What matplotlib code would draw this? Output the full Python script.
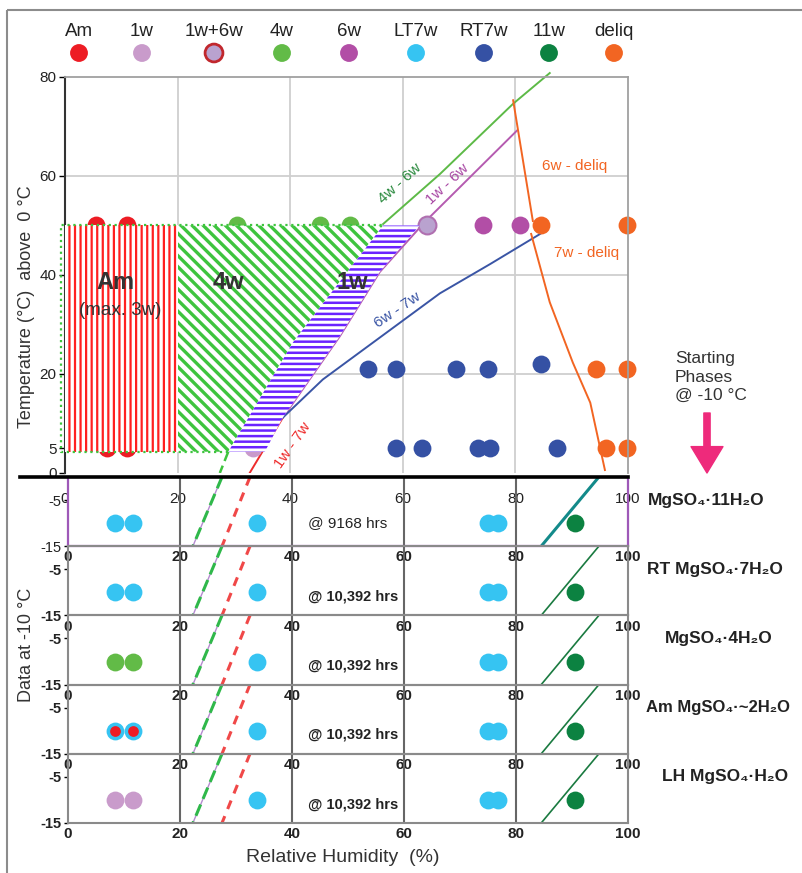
import numpy as np
import matplotlib
matplotlib.use('Agg')
import matplotlib.pyplot as plt
from matplotlib.patches import Rectangle, FancyArrowPatch

plt.rcParams['font.family'] = ['Liberation Sans', 'DejaVu Sans']
plt.rcParams['hatch.linewidth'] = 1.7

# legend phases
phases = ['Am', '1w', '1w+6w', '4w', '6w', 'LT7w', 'RT7w', '11w', 'deliq']
phase_colors = ['#ed1c24', '#c99bcb', '#b9a2cf', '#62bb47', '#b24ea6',
                '#36c4f2', '#3551a4', '#0c8241', '#f26522']

# observations above 0 C (RH %, T C)
am_rh, am_t = [5.5, 11.0, 7.5, 11.0], [50, 50, 5, 5]
w1_rh, w1_t = [33.4], [5]
w16_rh, w16_t = [64.3], [50]
w4_rh, w4_t = [30.5, 45.3, 50.6], [50, 50, 50]
w6_rh, w6_t = [74.2, 80.8], [50, 50]
rt7_rh = [53.8, 58.8, 69.4, 75.1, 84.5, 58.8, 63.4, 73.3, 75.4, 87.4]
rt7_t = [21, 21, 21, 21, 22, 5, 5, 5, 5, 5]
deliq_rh, deliq_t = [84.5, 99.8, 94.3, 99.8, 96.1, 99.8], [50, 50, 21, 21, 5, 5]

# phase boundaries
b46_rh, b46_t = [56.5, 66.6, 79.6, 86.1], [50.3, 60.4, 74.6, 80.8]
b17_rh, b17_t = [32.8, 38.7], [0, 11.2]
b16_rh, b16_t = [38.7, 48.8, 55.9, 63.9, 80.3], [11.2, 27.6, 40.6, 50.7, 69.2]
b67_rh, b67_t = [38.7, 45.8, 66.6, 75.5, 84.4], [11.2, 18.9, 36.3, 42.2, 48.3]
b6dq_rh, b6dq_t = [79.6, 83.1], [75.3, 50.9]
b7dq_rh, b7dq_t = [82.8, 86.1, 90.2, 93.3, 95.9], [48.3, 34.5, 22.3, 14.2, 0.6]
b14_rh, b14_t = [29.0, 27.5], [4.3, 0]

# hatched regions
am_reg_rh, am_reg_t = [0, 20, 20, 0], [4.3, 4.3, 50, 50]
w4_reg_rh, w4_reg_t = [0, 29.0, 40.5, 56.5, 0], [4.3, 4.3, 26.4, 50, 50]
w1_reg_rh = [29.0, 35.5, 38.7, 48.8, 55.9, 63.0, 56.5, 40.5]
w1_reg_t = [4.3, 4.3, 11.2, 27.6, 40.6, 50, 50, 26.4]

# data at -10 C
start_names = ['MgSO\u2084\u00b711H\u2082O', 'RT MgSO\u2084\u00b77H\u2082O', 'MgSO\u2084\u00b74H\u2082O',
               'Am MgSO\u2084\u00b7~2H\u2082O', 'LH MgSO\u2084\u00b7H\u2082O']
hours = ['@ 9168 hrs', '@ 10,392 hrs', '@ 10,392 hrs', '@ 10,392 hrs', '@ 10,392 hrs']
left_rh = [8.4, 11.6]
left_colors = ['#36c4f2', '#36c4f2', '#62bb47', '#36c4f2', '#c99bcb']
lt7_rh = [33.75, 75.0, 76.8]
w11_rh = [90.5]
cold_green_rh, cold_red_rh, cold_11_rh = [27.5, 22.3], [32.5, 27.5], [94.8, 84.5]
cold_t = [0, -15]
rh_ticks = [0, 20, 40, 60, 80, 100]

W, H = 802, 873
fig = plt.figure(figsize=(W / 100, H / 100), dpi=100)


def px_axes(l, t, r, b):
    return fig.add_axes([l / W, 1 - b / H, (r - l) / W, (b - t) / H])


def hatch_lw(polys, w):
    for p in polys:
        if hasattr(p, 'set_hatch_linewidth'):
            p.set_hatch_linewidth(w)


# ---- top panel
ax = px_axes(65, 77, 628, 473)
ax.set_xlim(0, 100)
ax.set_ylim(0, 80)
ax.set_xticks(rh_ticks)
ax.set_yticks([0, 5, 20, 40, 60, 80])
for s in ['top', 'right']:
    ax.spines[s].set_color('#a0a0a0')
    ax.spines[s].set_linewidth(1.3)
ax.spines['left'].set_color('#333333')
ax.spines['left'].set_linewidth(1.5)
ax.spines['bottom'].set_visible(False)
ax.tick_params(axis='x', length=0, pad=14, labelsize=11, labelcolor='#222')
ax.tick_params(axis='y', length=4, width=1, pad=2, labelsize=11, labelcolor='#222')
for v in [20, 40, 60, 80]:
    ax.axvline(v, color='#cfcfcf', lw=1.3, zorder=0.5)
for v in [20, 40, 60]:
    ax.axhline(v, color='#cfcfcf', lw=1.3, zorder=0.5)

g = ax.fill(w4_reg_rh, w4_reg_t, facecolor='white', edgecolor='#3ec43e', hatch='\\\\\\', lw=0, zorder=2.6)
hatch_lw(g, 2.4)
r = ax.fill(am_reg_rh, am_reg_t, facecolor='white', edgecolor='#ff2020', hatch='|||', lw=0, zorder=2.7)
hatch_lw(r, 1.6)
p = ax.fill(w1_reg_rh, w1_reg_t, facecolor='white', edgecolor='#6a22ff', hatch='---', lw=0, zorder=2.6)
hatch_lw(p, 1.8)
ax.plot([w4_reg_rh[1], -0.7, -0.7, w4_reg_rh[3]], [4.3, 4.3, 50, 50], ls=':', color='#3ec43e',
        lw=1.6, clip_on=False, zorder=2.8)

ax.plot(b46_rh, b46_t, color='#5dba47', lw=1.4, zorder=1.5, clip_on=False)
ax.plot(b17_rh, b17_t, color='#ee2c2c', lw=1.4, zorder=1.5)
ax.plot(b16_rh, b16_t, color='#b55bb0', lw=1.4, zorder=1.5)
ax.plot(b67_rh, b67_t, color='#3a55a5', lw=1.4, zorder=1.5)
ax.plot(b6dq_rh, b6dq_t, color='#f26522', lw=1.4, zorder=1.5)
ax.plot(b7dq_rh, b7dq_t, color='#f26522', lw=1.4, zorder=1.5)
ax.plot(b14_rh, b14_t, color='#3ec43e', lw=1.8, ls=(0, (4, 2)), zorder=1.5)

sz = 165
ax.scatter(am_rh, am_t, s=sz, color=phase_colors[0], lw=0, zorder=2)
ax.scatter(w1_rh, w1_t, s=sz, color=phase_colors[1], lw=0, zorder=2)
ax.scatter(w16_rh, w16_t, s=sz, color=phase_colors[2], edgecolor='#b070b0', lw=1.5, zorder=2)
ax.scatter(w4_rh, w4_t, s=sz, color=phase_colors[3], lw=0, zorder=2)
ax.scatter(w6_rh, w6_t, s=sz, color=phase_colors[4], lw=0, zorder=2)
ax.scatter(rt7_rh, rt7_t, s=sz, color=phase_colors[6], lw=0, zorder=2)
ax.scatter(deliq_rh, deliq_t, s=sz, color=phase_colors[8], lw=0, zorder=2, clip_on=False)

lab = dict(fontsize=11, ha='center', va='center', zorder=4)
ax.text(59.5, 58.4, '4w - 6w', color='#2a8a3e', rotation=42, **lab)
ax.text(68.0, 58.4, '1w - 6w', color='#a848a4', rotation=43, **lab)
ax.text(59.1, 32.9, '6w - 7w', color='#3a55a5', rotation=34, **lab)
ax.text(40.5, 5.7, '1w - 7w', color='#ee2c2c', rotation=55, **lab)
ax.text(90.6, 62.0, '6w - deliq', color='#f26522', **lab)
ax.text(92.7, 44.4, '7w - deliq', color='#f26522', **lab)
reg = dict(ha='center', va='center', color='#333333', zorder=4)
ax.text(8.9, 38.5, 'Am', fontsize=17, fontweight='bold', **reg)
ax.text(9.8, 32.9, '(max. 3w)', fontsize=13.5, **reg)
ax.text(29.1, 38.5, '4w', fontsize=17, fontweight='bold', **reg)
ax.text(51.0, 38.5, '1w', fontsize=17, fontweight='bold', **reg)

# ---- panels at -10 C
ph = 69.2
for i in range(5):
    top = 477 + ph * i
    bx = px_axes(68, top, 628, top + ph)
    bx.set_facecolor('none')
    bx.set_xlim(0, 100)
    bx.set_ylim(-15, 0)
    bx.set_xticks(rh_ticks)
    bx.set_yticks([-5, -15])
    wt = 'normal' if i == 0 else 'bold'
    bx.set_xticklabels([str(t) for t in rh_ticks], fontweight='bold')
    bx.set_yticklabels(['-5', '-15'], fontweight=wt)
    bx.tick_params(axis='x', length=0, pad=3, labelsize=11, labelcolor='#222')
    bx.tick_params(axis='y', length=3, width=1, pad=2, labelsize=10.5, labelcolor='#222')
    if i == 0:
        for s in ['left', 'right', 'bottom']:
            bx.spines[s].set_color('#9e59b8')
            bx.spines[s].set_linewidth(1.6)
        bx.spines['top'].set_visible(False)
    else:
        for s in bx.spines.values():
            s.set_color('#8a8a8a')
            s.set_linewidth(1.5)
    for v in [20, 40, 60, 80]:
        bx.axvline(v, color='#666666', lw=1.5, zorder=0.5)
    bx.plot(cold_green_rh, cold_t, color='#b58ad0', lw=1, zorder=1)
    bx.plot(cold_green_rh, cold_t, color='#2fb84a', lw=2.2, ls=(0, (4, 2)), zorder=1.2)
    bx.plot(cold_red_rh, cold_t, color='#f04848', lw=2.2, ls=(0, (3, 2.5)), zorder=1.2)
    if i == 0:
        bx.plot(cold_11_rh, cold_t, color='#138a8a', lw=2.2, zorder=1.2)
    else:
        bx.plot(cold_11_rh, cold_t, color='#1a7a40', lw=1.2, zorder=1.2)
    bx.scatter(left_rh, [-10, -10], s=sz, color=left_colors[i], lw=0, zorder=2)
    if i == 3:
        bx.scatter(left_rh, [-10, -10], s=60, color=phase_colors[0], lw=0, zorder=2.1)
    bx.scatter(lt7_rh, [-10] * 3, s=sz, color=phase_colors[5], lw=0, zorder=2)
    bx.scatter(w11_rh, [-10], s=sz, color=phase_colors[7], lw=0, zorder=2)
    bx.text(42.9, -10 if i == 0 else -10.9, hours[i], fontsize=11 if i == 0 else 10.5,
            fontweight=wt, ha='left', va='center', color='#222', zorder=0.3)

# ---- overlay: legend, frame, labels
ov = fig.add_axes([0, 0, 1, 1])
ov.set_xlim(0, W)
ov.set_ylim(H, 0)
ov.axis('off')
ov.add_patch(Rectangle((7, 10), 820, 900, fill=False, ec='#8c8c8c', lw=1.5))
ov.plot([20, 628], [477, 477], color='black', lw=2.6)

leg_x = [79, 142, 214, 282, 349, 416, 484, 549, 614]
edge = ['none'] * 9
edge[2] = '#c1272d'
lws = [0] * 9
lws[2] = 2
ov.scatter(leg_x, [53] * 9, s=sz, c=phase_colors, edgecolors=edge, linewidths=lws)
for x, nm in zip(leg_x, phases):
    ov.text(x, 31, nm, ha='center', va='center', fontsize=13.5, color='#222')

ov.text(675, 377, 'Starting\nPhases\n@ -10 \u00b0C', ha='left', va='center', fontsize=12.5,
        color='#333', linespacing=1.25)
ov.add_patch(FancyArrowPatch((707, 413), (707, 473), mutation_scale=1, color='#ee2a7b',
                             arrowstyle='simple,head_length=19,head_width=23,tail_width=4.5',
                             shrinkA=0, shrinkB=0))
name_x = [648, 647, 665, 646, 662]
name_fs = [12.5, 12.5, 12.5, 12, 12.5]
for i, nm in enumerate(start_names):
    ov.text(name_x[i], 500 + ph * i, nm, ha='left', va='center', fontsize=name_fs[i],
            fontweight='bold', color='#222')

ov.text(27, 307, 'Temperature (\u00b0C)  above  0 \u00b0C', rotation=90, ha='center', va='center',
        fontsize=13, color='#333')
ov.text(27, 645, 'Data at -10 \u00b0C', rotation=90, ha='center', va='center', fontsize=13, color='#333')
ov.text(343, 858, 'Relative Humidity  (%)', ha='center', va='center', fontsize=14, color='#333')

fig.savefig('out.png', dpi=100)
